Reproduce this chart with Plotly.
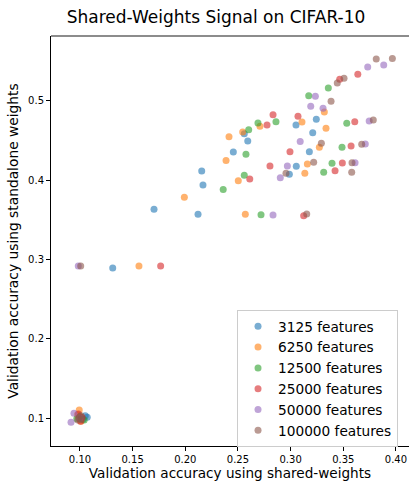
import plotly.graph_objects as go

# ---------------- data ----------------
series_names = ["3125 features", "6250 features", "12500 features",
                "25000 features", "50000 features", "100000 features"]

x_3125 = [0.2560, 0.2593, 0.2456, 0.3244, 0.3051, 0.3210, 0.3178, 0.3054, 0.2988,
          0.2156, 0.2168, 0.2121, 0.1703, 0.1311, 0.1069, 0.1030, 0.1050]
y_3125 = [0.4585, 0.4493, 0.4354, 0.4767, 0.4695, 0.4598, 0.4358, 0.4174, 0.4073,
          0.4115, 0.3938, 0.3569, 0.3632, 0.2892, 0.1009, 0.0985, 0.1030]

x_6250 = [0.2545, 0.2709, 0.3108, 0.3320, 0.3336, 0.2415, 0.3273, 0.2387, 0.3159,
          0.3135, 0.2503, 0.2570, 0.1991, 0.1560, 0.0993, 0.1010, 0.0975]
y_6250 = [0.4607, 0.4678, 0.4733, 0.4859, 0.4653, 0.4547, 0.4414, 0.4247, 0.4203,
          0.4086, 0.3992, 0.3569, 0.3784, 0.2917, 0.1101, 0.0960, 0.1040]

x_12500 = [0.3358, 0.3172, 0.2861, 0.2690, 0.2602, 0.3533, 0.3488, 0.2576, 0.3393,
           0.3314, 0.2560, 0.2360, 0.2719, 0.1000, 0.1040, 0.0970]
y_12500 = [0.5161, 0.5064, 0.4736, 0.4720, 0.4636, 0.4716, 0.4414, 0.4325, 0.4212,
           0.4098, 0.4061, 0.3881, 0.3564, 0.1020, 0.0975, 0.0990]

x_25000 = [0.3466, 0.3638, 0.2833, 0.3070, 0.2776, 0.3609, 0.2994, 0.3574, 0.2804,
           0.3491, 0.3422, 0.2612, 0.3124, 0.1766, 0.0985, 0.1020, 0.1005]
y_25000 = [0.5271, 0.5334, 0.4825, 0.4804, 0.4695, 0.4735, 0.4358, 0.4430, 0.4178,
           0.4216, 0.4119, 0.4014, 0.3551, 0.2917, 0.1050, 0.1005, 0.0960]

x_50000 = [0.3732, 0.3884, 0.3235, 0.3191, 0.3308, 0.3746, 0.3091, 0.3709, 0.2969,
           0.2902, 0.3612, 0.2833, 0.0984, 0.0915, 0.0943, 0.1000]
y_50000 = [0.5426, 0.5451, 0.5057, 0.4931, 0.4905, 0.4745, 0.4487, 0.4455, 0.4178,
           0.4030, 0.4219, 0.3560, 0.2917, 0.0946, 0.1059, 0.1000]

x_100000 = [0.3813, 0.3966, 0.3507, 0.3443, 0.3384, 0.3785, 0.3675, 0.3292, 0.3219,
            0.2956, 0.3583, 0.3580, 0.3153, 0.1007, 0.0990, 0.1010, 0.0980, 0.1015]
y_100000 = [0.5527, 0.5533, 0.5284, 0.5224, 0.4995, 0.4758, 0.4451, 0.4464, 0.4224,
            0.4087, 0.4219, 0.4098, 0.3573, 0.2917, 0.1000, 0.1030, 0.0975, 0.0985]

xs = [x_3125, x_6250, x_12500, x_25000, x_50000, x_100000]
ys = [y_3125, y_6250, y_12500, y_25000, y_50000, y_100000]
colors = ["#1f77b4", "#ff7f0e", "#2ca02c", "#d62728", "#9467bd", "#8c564b"]

x_ticks = [0.10, 0.15, 0.20, 0.25, 0.30, 0.35, 0.40]
y_ticks = [0.1, 0.2, 0.3, 0.4, 0.5]

FONT = "DejaVu Sans"
W, H = 409, 481

fig = go.Figure()
for name, x, y, c in zip(series_names, xs, ys, colors):
    fig.add_trace(go.Scatter(
        x=x, y=y, mode="markers", name=name,
        marker=dict(size=7, color=c, opacity=0.6, line=dict(width=0)),
    ))

fig.update_layout(
    width=W, height=H,
    margin=dict(l=51, r=0, t=36, b=35, autoexpand=False),
    paper_bgcolor="white", plot_bgcolor="white",
    font=dict(family=FONT, color="#000000"),
    title=dict(text="Shared-Weights Signal on CIFAR-10",
               x=216 / W, xref="container", xanchor="center",
               y=1 - 17 / H, yref="container", yanchor="middle",
               font=dict(size=17, family=FONT, color="#000000")),
    showlegend=True,
    legend=dict(x=0.5196, y=0.332, xanchor="left", yanchor="top",
                bgcolor="white", bordercolor="#cccccc", borderwidth=1,
                font=dict(size=13.7, family=FONT, color="#000000")),
    xaxis=dict(range=[0.0725, 0.4124], tickvals=x_ticks, tickformat=".2f",
               showgrid=False, zeroline=False, showline=True, linecolor="black",
               linewidth=1, ticks="outside", ticklen=4, tickcolor="black",
               tickfont=dict(size=10, family=FONT), automargin=False,
               ticklabeloverflow="allow",
               title=dict(text="Validation accuracy using shared-weights",
                          font=dict(size=13.6, family=FONT), standoff=4)),
    yaxis=dict(range=[0.0647, 0.5817], tickvals=y_ticks, tickformat=".1f",
               showgrid=False, zeroline=False, showline=True, linecolor="black",
               linewidth=1, ticks="outside", ticklen=4, tickcolor="black",
               tickfont=dict(size=10, family=FONT), automargin=False,
               title=dict(text="Validation accuracy using standalone weights",
                          font=dict(size=13.8, family=FONT), standoff=6)),
)

fig.add_shape(type="line", xref="paper", yref="paper", x0=0, x1=1, y0=1, y1=1,
              line=dict(color="#666666", width=1.5))

fig.write_html(
    "out.html",
    config={"displayModeBar": False},
    post_script="document.body.style.margin='0';document.body.style.overflow='hidden';",
)
